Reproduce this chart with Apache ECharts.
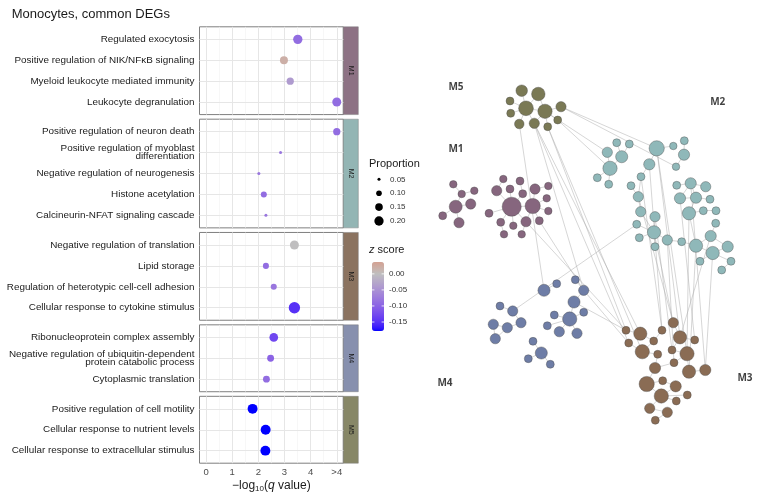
<!DOCTYPE html>
<html><head><meta charset="utf-8">
<script src="https://cdn.jsdelivr.net/npm/echarts@6/dist/echarts.min.js"></script>
<style>html,body{margin:0;padding:0;background:#fff}#c{width:758px;height:500px}</style>
</head><body><div id="c"></div>
<script>
// ================= DATA: dot plot =================
const moduleNames = ['M1','M2','M3','M4','M5'];
const termsM1 = ['Regulated exocytosis','Positive regulation of NIK/NFκB signaling','Myeloid leukocyte mediated immunity','Leukocyte degranulation'];
const qM1 = [3.51, 2.98, 3.22, 5];
const propM1 = [0.20, 0.16, 0.14, 0.19];
const zM1 = [-0.09, 0.02, -0.04, -0.09];
const termsM2 = ['Positive regulation of neuron death','Positive regulation of myoblast\ndifferentiation','Negative regulation of neurogenesis','Histone acetylation','Calcineurin-NFAT signaling cascade'];
const qM2 = [5, 2.85, 2.02, 2.21, 2.29];
const propM2 = [0.14, 0.05, 0.05, 0.11, 0.05];
const zM2 = [-0.09, -0.08, -0.08, -0.09, -0.08];
const termsM3 = ['Negative regulation of translation','Lipid storage','Regulation of heterotypic cell-cell adhesion','Cellular response to cytokine stimulus'];
const qM3 = [3.38, 2.29, 2.59, 3.38];
const propM3 = [0.19, 0.11, 0.11, 0.27];
const zM3 = [0.0, -0.09, -0.08, -0.15];
const termsM4 = ['Ribonucleoprotein complex assembly','Negative regulation of ubiquitin-dependent\nprotein catabolic process','Cytoplasmic translation'];
const qM4 = [2.59, 2.47, 2.31];
const propM4 = [0.18, 0.13, 0.13];
const zM4 = [-0.13, -0.10, -0.09];
const termsM5 = ['Positive regulation of cell motility','Cellular response to nutrient levels','Cellular response to extracellular stimulus'];
const qM5 = [1.78, 2.28, 2.27];
const propM5 = [0.22, 0.22, 0.22];
const zM5 = [-0.178, -0.178, -0.178];
const xTicks = [0, 1, 2, 3, 4, 5];
const xTickLabels = ['0', '1', '2', '3', '4', '>4'];
const propBreaks = [0.05, 0.10, 0.15, 0.20];
const zBreaks = [0, -0.05, -0.10, -0.15];
const zBreakLabels = ['0.00', '-0.05', '-0.10', '-0.15'];
const zMin = -0.178, zMax = 0.037;

// ================= DATA: network (layout units) =================
// [x, y, genes]
const netM5 = [[91.7,10.7,19],[108.3,14,26],[80,21,9],[96,28.3,31],[115,31.3,29],[131,26.7,15],[80.7,33.3,9],[89.3,44,13],[104.3,43.3,15],[117.7,46.7,9],[127.7,40,9]];
const netM1a = [[23.3,104.3,8],[31.7,114,8],[44.3,110.7,8],[25.7,126.7,24],[40.7,124,15],[12.7,135.7,9],[29,142.7,15]];
const netM1b = [[73.3,99,8],[90,101,9],[66.7,110.7,15],[80,109,9],[92.7,113.7,9],[105,109,15],[118.3,106,8],[81.7,126.7,52],[102.7,126,33],[116.7,118.3,8],[59,133.3,9],[118.3,131,8],[70.7,142.3,9],[83.3,145.7,8],[96,141.7,15],[109.3,140.7,9],[74,154.3,8],[91.7,154.3,8]];
const netM2 = [[186.7,62.7,9],[199.3,64,9],[226.7,68.3,33],[243.3,66,8],[254.3,60.7,9],[177.3,72.3,15],[191.7,76.7,21],[254,74.7,18],[180,88.3,29],[219.3,84.3,18],[246,86.7,8],[167.3,97.7,9],[178.7,104.3,9],[211,96.7,9],[201,105.7,9],[208.3,116.7,15],[246.7,105.3,9],[260.7,103.3,18],[275.7,106.7,15],[250,118.3,18],[266,117.7,18],[280,119.3,9],[259,133.3,25],[273.3,130.7,9],[286,130.7,9],[210.7,131.7,15],[225,136.7,15],[285.7,143.3,9],[206.7,144.3,9],[224,152.3,25],[209.3,157.7,9],[237.3,160,15],[251.7,161.7,9],[266,165.7,25],[280.7,156,18],[297.7,166.7,18],[225,166.7,9],[282.7,173,25],[270,181.3,9],[301,181.3,9],[291.7,190,9]];
const netM4 = [[114,210.3,21],[126.7,203.7,9],[145.3,199.7,9],[153.7,210.3,15],[144,222,21],[153.7,232.3,9],[124.3,235,9],[139.7,239,29],[117.3,245.7,9],[129.3,251.7,15],[147,253.3,15],[70,226,9],[82.7,231,15],[91,242.7,15],[63.3,244.3,15],[77.3,247.7,15],[65.3,258.7,15],[103,261.3,9],[111.3,273,21],[98.3,278.7,9],[120.3,284.3,9]];
const netM3 = [[243.3,242.7,15],[196,250.3,9],[210.3,253.7,25],[232,250.3,9],[250,257.3,25],[264.7,260,9],[223.7,261,9],[198.7,263,9],[212.3,271.7,29],[227.7,274.3,9],[242,270,9],[257,273.7,29],[244,282.7,9],[225,288,18],[259,291.7,25],[275.3,290,18],[216.7,304,33],[232.7,300.7,9],[245.7,306.3,18],[231.3,316,29],[257.3,315,9],[246.3,321,9],[219.7,328.3,15],[237.3,332.3,15],[225.3,340.3,9]];
const netEdges = ['a0-a3','a1-a3','a1-a4','a2-a3','a6-a3','a7-a3','a8-a3','a8-a4','a9-a4','a10-a4','a5-a4','a3-a4',
 'b0-b1','b1-b3','b2-b1','b3-b4','b3-b5','b3-b6',
 'c0-c2','c2-c7','c3-c7','c1-c4','c4-c7','c10-c7','c12-c7','c13-c7','c14-c7','c7-c8','c5-c8','c6-c5','c9-c8','c11-c8','c15-c8','c14-c8','c16-c12','c17-c14',
 'd0-d6','d1-d6','d5-d8','d6-d8','d8-d11','d8-d12','d2-d9','d3-d2','d4-d7','d7-d10','d9-d13','d13-d15','d14-d15','d15-d25','d25-d29','d26-d29','d28-d29','d30-d29','d36-d29','d29-d31','d31-d32','d16-d17','d17-d18','d17-d19','d19-d20','d20-d17','d20-d21','d20-d22','d22-d23','d23-d24','d27-d34','d33-d34','d34-d35','d33-d37','d37-d35','d37-d38','d37-d39','d39-d40','d32-d33','d22-d33',
 'e0-e1','e2-e3','e3-e4','e4-e7','e5-e7','e6-e7','e8-e7','e9-e7','e10-e7','e11-e12','e12-e13','e14-e15','e15-e13','e16-e15','e14-e16','e17-e18','e18-e19','e18-e20',
 'f1-f2','f7-f8','f2-f6','f3-f6','f6-f8','f8-f9','f0-f4','f4-f5','f4-f10','f10-f11','f11-f12','f11-f14','f14-f15','f9-f13','f13-f16','f16-f17','f16-f19','f17-f18','f18-f19','f19-f20','f19-f21','f19-f22','f22-f23','f23-f24','f12-f13',
 'a5-d2','a5-d10','a10-d8','a4-d5','a9-f1','a8-f7','a9-f8','a7-e0','a8-e3','a8-f2','c15-e3','c14-f1','e12-d28','e3-f7','e4-f1','d9-f3','d2-f4','d2-f11','d13-f3','d29-f0','d26-f10','d22-f11','d33-f14','d37-f15','d34-f4','d31-f12','d19-f5','d17-f15','d15-f0'];
const netLabelNames = ['M5','M2','M1','M4','M3'];
const netLabelX = [26, 287.7, 26, 15, 315];
const netLabelY = [7, 22.3, 69, 303.3, 297.7];

// ================= STYLE =================
const stripColors = ['#8d7284','#93b5b4','#8b7360','#8790ae','#878767'];
const nodeColors = {M1:'#86667e', M2:'#8fb8b9', M3:'#8a6c54', M4:'#6e7da6', M5:'#7a7955'};
const FONT = "'Liberation Sans', Arial, Helvetica, sans-serif";

function sizeFn(p){ return Math.max(2, 28.2*Math.sqrt(p) - 3.3); }
function geneSize(g){ return 2.65*Math.sqrt(g); }

// Lab colour interpolation (gradient2 like)
function s2l(c){c/=255;return c<=0.04045?c/12.92:Math.pow((c+0.055)/1.055,2.4);}
function l2s(c){const v=c<=0.0031308?12.92*c:1.055*Math.pow(Math.max(c,0),1/2.4)-0.055;return Math.max(0,Math.min(255,Math.round(v*255)));}
function toLab(h){const r=s2l(parseInt(h.substr(1,2),16)),g=s2l(parseInt(h.substr(3,2),16)),b=s2l(parseInt(h.substr(5,2),16));
 const X=(0.4124*r+0.3576*g+0.1805*b)/0.95047,Y=0.2126*r+0.7152*g+0.0722*b,Z=(0.0193*r+0.1192*g+0.9505*b)/1.08883;
 const f=t=>t>0.008856?Math.cbrt(t):7.787*t+16/116;const fx=f(X),fy=f(Y),fz=f(Z);return [116*fy-16,500*(fx-fy),200*(fy-fz)];}
function fromLab(L,a,b){const fy=(L+16)/116,fx=fy+a/500,fz=fy-b/200;const fi=t=>t*t*t>0.008856?t*t*t:(t-16/116)/7.787;
 const X=fi(fx)*0.95047,Y=fi(fy),Z=fi(fz)*1.08883;
 return 'rgb('+l2s(3.2406*X-1.5372*Y-0.4986*Z)+','+l2s(-0.9689*X+1.8758*Y+0.0415*Z)+','+l2s(0.0557*X-0.2040*Y+1.0570*Z)+')';}
const LOW=toLab('#0000ff'), MID=toLab('#bfbfbf'), HIGH=toLab('#d3a192');
function mixLab(A,B,t){return fromLab(A[0]+(B[0]-A[0])*t,A[1]+(B[1]-A[1])*t,A[2]+(B[2]-A[2])*t);}
function zColor(v){ return v<=0 ? mixLab(MID,LOW,Math.min(1,-v/0.178)) : mixLab(MID,HIGH,Math.min(1,v/0.037)); }
const vmColors=[]; for(let k=0;k<=60;k++){ vmColors.push(zColor(zMin+(zMax-zMin)*k/60)); }

// ================= LAYOUT =================
const panelLeft=199.5, panelWidth=143.8, stripW=15, rowH=20.9, panelGap=4.6, panelTop0=26.8;
const termsAll=[termsM1,termsM2,termsM3,termsM4,termsM5];
const qAll=[qM1,qM2,qM3,qM4,qM5], pAll=[propM1,propM2,propM3,propM4,propM5], zAll=[zM1,zM2,zM3,zM4,zM5];

const grids=[], xAxes=[], yAxes=[], series=[], graphics=[];
let panelY=panelTop0;
termsAll.forEach((terms,i)=>{
  const n=terms.length, h=(n+0.2)*rowH;
  grids.push({left:panelLeft, top:panelY, width:panelWidth, height:h, show:true, borderColor:'#7f7f7f', borderWidth:1, backgroundColor:'rgba(0,0,0,0)'});
  const idx=terms.map((t,k)=>k);
  const last = i===termsAll.length-1;
  xAxes.push({gridIndex:i, type:'value', min:-0.25, max:5.25,
    axisLine:{show:false}, splitLine:{show:false},
    axisTick:{show:last, customValues:xTicks, length:3, lineStyle:{color:'#333', width:0.8}},
    axisLabel:{show:last, customValues:xTicks, formatter:v=>xTickLabels[Math.round(v)], color:'#4d4d4d', fontSize:9.5, fontFamily:FONT, margin:4},
    name: last ? '{a|−log}{s|10}{a|(}{i|q}{a| value)}' : '', nameLocation:'middle', nameGap:14,
    nameTextStyle:{rich:{a:{fontSize:12,lineHeight:16,fontFamily:FONT,color:'#1a1a1a'},
      s:{fontSize:8,lineHeight:8,verticalAlign:'bottom',fontFamily:FONT,color:'#1a1a1a'},
      i:{fontSize:12,lineHeight:16,fontStyle:'italic',fontFamily:FONT,color:'#1a1a1a'}}}
  });
  yAxes.push({gridIndex:i, type:'value', inverse:true, min:-0.6, max:n-0.4,
    axisLine:{show:false}, splitLine:{show:false},
    axisTick:{show:true, customValues:idx, length:3, lineStyle:{color:'#333', width:0.8}},
    axisLabel:{customValues:idx, formatter:v=>terms[Math.round(v)], color:'#1a1a1a', fontSize:9.9, fontFamily:FONT, margin:5, lineHeight:8, align:'right'}
  });
  const mlData=[];
  xTicks.forEach(v=>mlData.push({xAxis:v, lineStyle:{color:'#e6e6e6', width:1, type:'solid'}}));
  [0.5,1.5,2.5,3.5,4.5].forEach(v=>mlData.push({xAxis:v, lineStyle:{color:'#f1f1f1', width:0.6, type:'solid'}}));
  idx.forEach(v=>mlData.push({yAxis:v, lineStyle:{color:'#e6e6e6', width:1, type:'solid'}}));
  series.push({type:'scatter', xAxisIndex:i, yAxisIndex:i, z:3,
    data: terms.map((t,k)=>[qAll[i][k], k, zAll[i][k], pAll[i][k]]),
    symbolSize: d=>sizeFn(d[3]), itemStyle:{opacity:1},
    markLine:{silent:true, z:1, symbol:['none','none'], label:{show:false}, animation:false, lineStyle:{type:'solid'}, data:mlData}
  });
  graphics.push({type:'rect', shape:{x:panelLeft+panelWidth, y:panelY, width:stripW, height:h}, style:{fill:stripColors[i], stroke:'#7f7f7f', lineWidth:0.5}, silent:true});
  graphics.push({type:'text', x:panelLeft+panelWidth+stripW/2, y:panelY+h/2, rotation:-Math.PI/2, silent:true,
    style:{text:moduleNames[i], fill:'#1a1a1a', font:'7px '+FONT, textAlign:'center', textVerticalAlign:'middle'}});
  panelY += h + panelGap;
});

// Network grid
grids.push({left:430, top:80, width:320, height:360, show:false});
xAxes.push({gridIndex:5, type:'value', min:0, max:320, show:false});
yAxes.push({gridIndex:5, type:'value', min:0, max:360, inverse:true, show:false});

const groups=[['a','M5',netM5],['b','M1',netM1a],['c','M1',netM1b],['d','M2',netM2],['e','M4',netM4],['f','M3',netM3]];
const catNames=['M1','M2','M3','M4','M5'];
const nodes=[];
groups.forEach(([key,mod,pts])=>{
  pts.forEach((p,k)=>nodes.push({name:key+k, value:[p[0],p[1]], symbolSize:geneSize(p[2]), category:catNames.indexOf(mod)}));
});
const links=netEdges.map(e=>{const [s,t]=e.split('-');return {source:s,target:t};});
series.push({type:'graph', coordinateSystem:'cartesian2d', xAxisIndex:5, yAxisIndex:5, layout:'none', silent:true, z:2,
  data:nodes, links:links,
  categories:catNames.map(m=>({name:m, itemStyle:{color:nodeColors[m]}})),
  itemStyle:{borderColor:'#4a4a4a', borderWidth:0.4},
  lineStyle:{color:'#a8a8a8', width:0.6, opacity:0.8, curveness:0},
  label:{show:false}, emphasis:{disabled:true}
});
series.push({type:'scatter', xAxisIndex:5, yAxisIndex:5, z:4, silent:true, symbolSize:0,
  data: netLabelNames.map((m,k)=>[netLabelX[k], netLabelY[k], m]),
  label:{show:true, position:'inside', formatter:p=>p.data[2], fontFamily:"'Open Sans', "+FONT, fontWeight:'bold', fontSize:10, color:'#111'}
});

graphics.push({type:'text', x:11.7, y:14, silent:true, style:{text:'Monocytes, common DEGs', fill:'#1a1a1a', font:'13px '+FONT, textAlign:'left', textVerticalAlign:'middle'}});
graphics.push({type:'text', x:369, y:164, silent:true, style:{text:'Proportion', fill:'#1a1a1a', font:'11px '+FONT, textAlign:'left', textVerticalAlign:'middle'}});
propBreaks.forEach((p,k)=>{
  const y=179.3+k*13.9;
  graphics.push({type:'circle', shape:{cx:379, cy:y, r:sizeFn(p)/2}, style:{fill:'#000'}, silent:true});
  graphics.push({type:'text', x:390, y:y, silent:true, style:{text:p.toFixed(2), fill:'#333', font:'8px '+FONT, textAlign:'left', textVerticalAlign:'middle'}});
});
const cbTop=262, cbH=69, cbLeft=372, cbW=12;
graphics.push({type:'text', x:369, y:250, silent:true, style:{text:'{i|z} score', fill:'#1a1a1a', font:'11px '+FONT, textAlign:'left', textVerticalAlign:'middle', rich:{i:{fontStyle:'italic', fontSize:11, fontFamily:FONT}}}});
zBreaks.forEach((v,k)=>{
  const y=cbTop+(zMax-v)/(zMax-zMin)*cbH;
  graphics.push({type:'text', x:389, y:y, silent:true, z:100, style:{text:zBreakLabels[k], fill:'#333', font:'8px '+FONT, textAlign:'left', textVerticalAlign:'middle'}});
  graphics.push({type:'line', shape:{x1:cbLeft, y1:y, x2:cbLeft+2.4, y2:y}, style:{stroke:'#fff', lineWidth:0.8}, z:100, silent:true});
  graphics.push({type:'line', shape:{x1:cbLeft+cbW-2.4, y1:y, x2:cbLeft+cbW, y2:y}, style:{stroke:'#fff', lineWidth:0.8}, z:100, silent:true});
});

const option={
  animation:false,
  backgroundColor:'#ffffff',
  grid:grids, xAxis:xAxes, yAxis:yAxes, series:series,
  visualMap:[{type:'continuous', seriesIndex:[0,1,2,3,4], dimension:2, min:zMin, max:zMax,
    inRange:{color:vmColors}, left:cbLeft, top:cbTop, itemWidth:cbW, itemHeight:cbH, padding:0,
    calculable:false, hoverLink:false, text:null, show:true, realtime:false}],
  graphic:{elements:graphics}
};
const chart=echarts.init(document.getElementById('c'),null,{renderer:'canvas',width:758,height:500});
chart.setOption(option);
</script></body></html>
